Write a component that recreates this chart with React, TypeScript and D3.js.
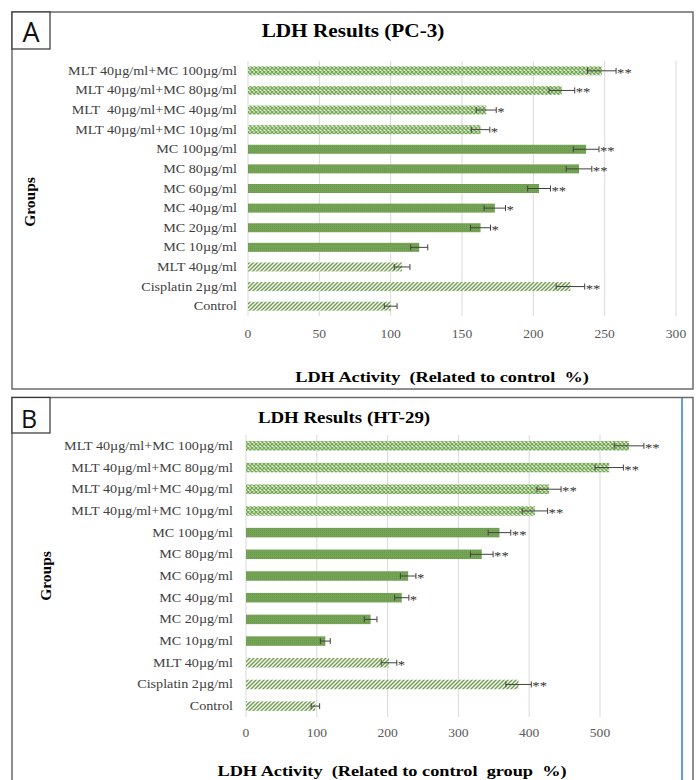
import React from "react";
import * as d3 from "d3";

const categories = [
  "MLT 40µg/ml+MC 100µg/ml",
  "MLT 40µg/ml+MC 80µg/ml",
  "MLT  40µg/ml+MC 40µg/ml",
  "MLT 40µg/ml+MC 10µg/ml",
  "MC 100µg/ml",
  "MC 80µg/ml",
  "MC 60µg/ml",
  "MC 40µg/ml",
  "MC 20µg/ml",
  "MC 10µg/ml",
  "MLT 40µg/ml",
  "Cisplatin 2µg/ml",
  "Control",
];
const categoriesB = [
  "MLT 40µg/ml+MC 100µg/ml",
  "MLT 40µg/ml+MC 80µg/ml",
  "MLT 40µg/ml+MC 40µg/ml",
  "MLT 40µg/ml+MC 10µg/ml",
  "MC 100µg/ml",
  "MC 80µg/ml",
  "MC 60µg/ml",
  "MC 40µg/ml",
  "MC 20µg/ml",
  "MC 10µg/ml",
  "MLT 40µg/ml",
  "Cisplatin 2µg/ml",
  "Control",
];
const groupKind = ["combo", "combo", "combo", "combo", "mc", "mc", "mc", "mc", "mc", "mc", "ref", "ref", "ref"];

const pc3Values = [248, 220, 167, 163, 237, 232, 204, 173, 163, 120, 108, 226, 100];
const pc3Errors = [10, 9, 7, 6.5, 9, 9, 8, 7.5, 7, 6, 5.5, 10, 4.5];
const pc3Stars = ["**", "**", "*", "*", "**", "**", "**", "*", "*", "", "", "**", ""];
const pc3Ticks = [0, 50, 100, 150, 200, 250, 300];

const ht29Values = [541, 513, 428, 408, 358, 333, 229, 220, 176, 112, 202, 385, 98];
const ht29Errors = [21, 20, 17, 18, 16, 16, 11, 10, 9, 7, 11, 18, 6];
const ht29Stars = ["**", "**", "**", "**", "**", "**", "*", "*", "", "", "*", "**", ""];
const ht29Ticks = [0, 100, 200, 300, 400, 500];

const SX = 1.18;
const SERIF = "'Liberation Serif', 'Times New Roman', serif";

function SText(props: any) {
  const { x, y, anchor = "start", size = 12, weight = "normal", fill = "#404040", children } = props;
  return (
    <text
      transform={`translate(${x},${y}) scale(${SX},1)`}
      textAnchor={anchor}
      fontSize={size}
      fontWeight={weight}
      fill={fill}
      fontFamily={SERIF}
      style={{ whiteSpace: "pre" }}
    >
      {children}
    </text>
  );
}

function Panel(props: any) {
  const {
    cats, values, errors, stars, ticks, domainMax,
    xr, yr, labelX, tickY, title, titleX, titleY, titleSize,
    axisTitle, axisX, axisY, groupsX, groupsY, barH,
  } = props;
  const x = d3.scaleLinear().domain([0, domainMax]).range(xr);
  const y = d3.scaleBand<string>().domain(cats.map((_: string, i: number) => String(i))).range(yr);
  const fills: Record<string, string> = { combo: "url(#pCross)", mc: "url(#pSolid)", ref: "url(#pDiag)" };
  return (
    <g>
      {ticks.map((t: number) => (
        <line key={"g" + t} x1={x(t)} x2={x(t)} y1={yr[0]} y2={yr[1]} stroke="#d9d9d9" strokeWidth={1} />
      ))}
      {ticks.map((t: number) => (
        <SText key={"t" + t} x={x(t)} y={tickY} anchor="middle" size={11.5} fill="#595959">
          {String(t)}
        </SText>
      ))}
      {cats.map((c: string, i: number) => {
        const cy = (y(String(i)) as number) + y.bandwidth() / 2;
        const v = values[i];
        const e = errors[i];
        return (
          <g key={"r" + i}>
            <SText x={labelX} y={cy + 4} anchor="end" size={12}>
              {c}
            </SText>
            <rect x={x(0)} y={cy - barH / 2} width={x(v) - x(0)} height={barH} fill={fills[groupKind[i]]} />
            <line x1={x(v - e)} x2={x(v + e)} y1={cy} y2={cy} stroke="#404040" strokeWidth={1} />
            <line x1={x(v - e)} x2={x(v - e)} y1={cy - 3} y2={cy + 3} stroke="#404040" strokeWidth={1} />
            <line x1={x(v + e)} x2={x(v + e)} y1={cy - 3} y2={cy + 3} stroke="#404040" strokeWidth={1} />
            {stars[i] ? (
              <SText x={x(v + e) + 1} y={cy + 6} size={12.5} fill="#333">
                {stars[i]}
              </SText>
            ) : null}
          </g>
        );
      })}
      <SText x={titleX} y={titleY} anchor="middle" size={titleSize} weight="bold" fill="#000">
        {title}
      </SText>
      <SText x={axisX} y={axisY} anchor="middle" size={15.5} weight="bold" fill="#000">
        {axisTitle}
      </SText>
      <text
        transform={`translate(${groupsX},${groupsY}) rotate(-90)`}
        textAnchor="middle"
        fontSize={15.5}
        fontWeight="bold"
        fontFamily={SERIF}
        fill="#000"
      >
        Groups
      </text>
    </g>
  );
}

export default function App() {
  return (
    <svg
      width={698}
      height={780}
      style={{ position: "absolute", left: 0, top: 0, background: "#fff" }}
    >
      <defs>
        <pattern id="pCross" width={4} height={4} patternUnits="userSpaceOnUse">
          <rect width={4} height={4} fill="#eef6e8" />
          <path d="M0,0 L4,4 M4,0 L0,4" stroke="#74a852" strokeWidth={1.3} />
        </pattern>
        <pattern id="pDiag" width={4} height={4} patternUnits="userSpaceOnUse">
          <rect width={4} height={4} fill="#ffffff" />
          <path d="M-1,1 L1,-1 M0,4 L4,0 M3,5 L5,3" stroke="#6f9f4c" strokeWidth={1.5} />
        </pattern>
        <pattern id="pSolid" width={2} height={2} patternUnits="userSpaceOnUse">
          <rect width={2} height={2} fill="#76a456" />
          <rect width={1} height={1} fill="#6c9a4c" />
        </pattern>
      </defs>

      {/* Panel A frame */}
      <rect x={12} y={12} width={681} height={377} fill="none" stroke="#6b6b6b" strokeWidth={1.5} />
      <rect x={12} y={12} width={38} height={37} fill="#fff" stroke="#333" strokeWidth={1.2} />
      <text x={31} y={42} textAnchor="middle" fontSize={27} fontFamily="'Open Sans', sans-serif" fill="#111">
        A
      </text>

      <Panel
        cats={categories}
        values={pc3Values}
        errors={pc3Errors}
        stars={pc3Stars}
        ticks={pc3Ticks}
        domainMax={300}
        xr={[248, 676]}
        yr={[61, 316]}
        labelX={237}
        tickY={338}
        title="LDH Results (PC-3)"
        titleX={353}
        titleY={37}
        titleSize={18}
        axisTitle="LDH Activity  (Related to control  %)"
        axisX={442}
        axisY={382}
        groupsX={35}
        groupsY={202}
        barH={9}
      />

      {/* Panel B frame */}
      <path d="M12,780 L12,397.5 L693,397.5 L693,780" fill="none" stroke="#6b6b6b" strokeWidth={1.5} />
      <line x1={682} x2={682} y1={398} y2={780} stroke="#2f7fc8" strokeWidth={1.5} />
      <rect x={12} y={397.5} width={38} height={35.5} fill="#fff" stroke="#333" strokeWidth={1.2} />
      <text x={29} y={428} textAnchor="middle" fontSize={25} fontFamily="'Open Sans', sans-serif" fill="#111">
        B
      </text>

      <Panel
        cats={categoriesB}
        values={ht29Values}
        errors={ht29Errors}
        stars={ht29Stars}
        ticks={ht29Ticks}
        domainMax={500}
        xr={[246, 600]}
        yr={[435, 717]}
        labelX={233}
        tickY={737}
        title="LDH Results (HT-29)"
        titleX={344}
        titleY={423}
        titleSize={16}
        axisTitle="LDH Activity  (Related to control  group  %)"
        axisX={392}
        axisY={776}
        groupsX={51}
        groupsY={576}
        barH={9.5}
      />
    </svg>
  );
}
